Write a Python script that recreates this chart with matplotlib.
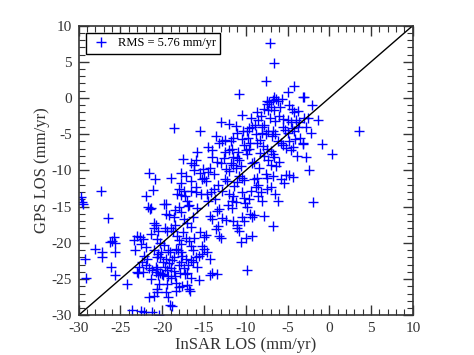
import numpy as np
import matplotlib
matplotlib.use("Agg")
import matplotlib.pyplot as plt
from matplotlib.ticker import MultipleLocator

# (InSAR LOS, GPS LOS) in mm/yr
los_pairs = [
    # far left
    (-29.7, -13.7), (-29.5, -14.6), (-29.6, -14.4), (-27.3, -12.9), (-26.5, -16.6),
    (-26.0, -19.7), (-25.8, -19.2), (-25.7, -20.0), (-26.2, -19.9), (-25.7, -21.3),
    (-28.0, -20.9), (-27.2, -21.2), (-27.2, -22.0), (-29.3, -22.3), (-29.1, -24.9),
    (-26.1, -23.3), (-25.6, -24.4),
    # x -25..-20
    (-24.2, -25.7), (-23.6, -29.3), (-22.5, -29.4), (-22.2, -29.6), (-21.2, -29.6),
    (-20.4, -29.9), (-23.4, -19.6), (-23.0, -19.0), (-22.7, -19.2), (-22.3, -19.5),
    (-22.5, -20.1), (-23.2, -21.0), (-22.2, -21.8), (-21.8, -22.3), (-22.0, -23.0),
    (-21.6, -23.5), (-22.3, -24.0), (-23.0, -24.0), (-22.9, -24.2), (-21.6, -27.5),
    (-21.0, -27.3), (-22.0, -13.6), (-21.7, -15.0), (-21.5, -15.3), (-21.3, -15.2),
    (-21.6, -10.3), (-20.9, -11.2), (-21.1, -12.7), (-21.0, -17.2), (-20.7, -17.6),
    (-21.0, -18.0), (-20.5, -18.3), (-21.3, -18.8), (-20.6, -19.5), (-20.3, -20.0),
    (-21.0, -21.0), (-20.5, -21.6), (-20.6, -22.0), (-20.3, -22.0), (-20.8, -23.3),
    (-20.6, -23.6), (-21.2, -23.7), (-20.3, -24.2), (-20.5, -24.5), (-20.8, -24.0),
    (-20.4, -25.7), (-20.6, -26.4), (-20.6, -26.8), (-20.0, -24.3), (-22.4, -22.6),
    (-21.9, -20.6), (-22.8, -23.4), (-21.4, -25.0), (-20.2, -21.2),
    # x -20..-15, lower part
    (-19.8, -14.6), (-19.6, -14.6), (-19.5, -16.0), (-19.2, -16.2), (-19.0, -18.0),
    (-18.7, -18.3), (-18.5, -17.5), (-19.7, -17.9), (-19.4, -18.3), (-18.5, -15.4),
    (-18.0, -15.0), (-17.8, -15.8), (-17.4, -16.7), (-17.0, -17.3), (-17.5, -18.5),
    (-18.0, -19.6), (-17.8, -20.2), (-17.2, -19.4), (-16.8, -19.8), (-18.3, -20.8),
    (-18.1, -21.0), (-17.8, -21.3), (-19.3, -21.0), (-19.1, -21.2), (-19.6, -22.2),
    (-19.9, -22.6), (-19.2, -22.8), (-18.8, -22.4), (-19.7, -23.4), (-19.4, -23.8),
    (-19.0, -23.5), (-18.6, -23.9), (-19.9, -24.4), (-19.3, -24.6), (-18.9, -24.9),
    (-18.5, -24.6), (-18.0, -23.0), (-17.7, -22.6), (-17.4, -23.5), (-17.9, -24.2),
    (-17.3, -24.3), (-17.0, -24.1), (-18.4, -25.6), (-18.0, -26.1), (-17.6, -26.0),
    (-17.0, -25.8), (-16.8, -26.4), (-16.7, -26.7), (-19.4, -25.7), (-19.6, -26.8),
    (-19.3, -27.5), (-19.1, -28.6), (-18.8, -28.7), (-16.5, -22.4), (-16.3, -22.7),
    (-16.0, -22.0), (-15.6, -21.8), (-16.6, -20.5), (-16.3, -21.0), (-15.6, -25.2),
    (-15.5, -18.5), (-15.0, -19.2), (-14.8, -18.9), (-15.2, -20.4), (-15.0, -20.9),
    (-15.2, -21.5), (-14.6, -21.2), (-14.3, -22.3), (-14.0, -24.1), (-13.5, -24.3),
    (-14.3, -24.4), (-16.5, -17.8), (-16.3, -16.4), (-16.8, -14.8), (-15.8, -15.2),
    (-18.2, -19.0), (-17.6, -21.8), (-16.9, -23.0), (-18.6, -21.9), (-16.2, -19.3),
    (-17.1, -22.2), (-18.4, -26.7), (-19.8, -20.3), (-15.8, -23.3), (-16.6, -24.8),
    # x -20..-15, upper part
    (-18.6, -4.2), (-15.5, -4.6), (-15.8, -7.4), (-17.5, -8.4), (-16.5, -9.0),
    (-16.2, -9.3), (-17.8, -10.4), (-17.2, -10.8), (-16.2, -10.0), (-15.5, -10.3),
    (-17.4, -12.8), (-17.7, -13.4), (-17.3, -13.6), (-16.5, -11.5), (-16.0, -12.3),
    (-15.2, -11.2), (-15.0, -11.0), (-15.9, -13.0), (-15.3, -13.3), (-18.0, -12.6),
    (-18.2, -13.2), (-19.0, -11.0), (-17.0, -14.2), (-16.6, -12.8), (-15.1, -9.8),
    (-18.6, -16.4), (-17.7, -11.8), (-16.9, -14.9), (-16.0, -8.6),
    # x -15..-10
    (-13.6, -5.3), (-12.0, -3.6), (-13.0, -3.3), (-14.5, -6.8), (-14.0, -7.2),
    (-13.2, -6.2), (-12.8, -6.0), (-12.5, -7.5), (-12.0, -7.2), (-11.6, -7.0),
    (-11.5, -8.2), (-11.0, -8.3), (-10.8, -8.5), (-13.5, -8.8), (-13.0, -9.0),
    (-14.3, -9.6), (-14.5, -10.2), (-13.8, -10.5), (-12.4, -9.8), (-12.0, -10.1),
    (-11.5, -9.3), (-11.2, -9.6), (-10.8, -10.8), (-10.5, -11.0), (-10.2, -11.3),
    (-12.5, -11.2), (-12.2, -11.5), (-11.0, -11.6), (-11.4, -12.2), (-13.3, -12.0),
    (-13.8, -12.5), (-14.2, -13.0), (-14.6, -13.3), (-12.0, -13.2), (-11.5, -13.5),
    (-10.5, -13.0), (-10.2, -13.8), (-11.6, -14.2), (-11.2, -14.4), (-14.5, -14.2),
    (-13.2, -15.3), (-13.5, -15.6), (-14.3, -16.3), (-14.0, -16.7), (-12.8, -16.6),
    (-12.4, -16.9), (-11.5, -17.0), (-11.0, -17.5), (-11.0, -18.0), (-10.5, -16.5),
    (-10.2, -17.0), (-10.8, -18.4), (-13.3, -17.7), (-13.6, -18.1), (-13.2, -19.0),
    (-13.0, -19.4), (-10.6, -19.9), (-10.0, -19.3), (-11.7, -15.2), (-10.4, -2.4),
    (-11.0, -4.8), (-11.5, -5.5), (-10.5, -5.6), (-10.2, -6.5), (-11.8, -6.0),
    (-12.5, -5.8), (-10.8, 0.5), (-12.6, -8.3), (-11.8, -9.0), (-10.6, -9.4),
    (-10.9, -7.4), (-14.8, -11.4), (-13.7, -14.0), (-12.9, -12.8), (-10.3, -4.5),
    (-11.2, -3.9), (-14.1, -8.2), (-10.1, -14.5), (-12.1, -14.8),
    # x -10..-5, lower part
    (-9.9, -23.7), (-9.2, -19.0), (-9.5, -16.0), (-9.0, -16.2), (-9.3, -16.5),
    (-7.8, -16.3), (-6.8, -17.7), (-9.8, -15.0), (-9.6, -14.0), (-8.5, -12.0),
    (-8.8, -12.3), (-8.2, -13.0), (-8.5, -13.5), (-7.5, -12.5), (-7.0, -12.3),
    (-6.5, -13.2), (-6.2, -14.2), (-9.0, -11.2), (-8.6, -11.0), (-7.5, -11.0),
    (-7.6, -10.5), (-6.8, -10.8), (-5.8, -11.2), (-5.4, -11.7), (-5.2, -10.7),
    (-6.4, -9.4), (-7.0, -9.2), (-9.4, -12.9), (-8.0, -14.2),
    # x -10..-5, upper part
    (-10.0, -7.2), (-9.8, -7.8), (-9.6, -7.0), (-9.5, -6.2), (-9.9, -4.5),
    (-9.6, -4.2), (-9.2, -4.0), (-8.9, -3.7), (-8.5, -3.0), (-8.2, -2.5),
    (-8.0, -4.0), (-7.8, -3.8), (-8.1, -4.8), (-7.6, -5.0), (-7.3, -4.6),
    (-7.8, -1.5), (-7.3, -1.7), (-7.0, -1.2), (-6.6, -1.6), (-7.5, -0.4),
    (-7.2, -0.6), (-6.8, -0.3), (-6.4, -0.1), (-6.2, -0.4), (-5.7, -0.2),
    (-6.0, -2.5), (-5.6, -2.9), (-6.5, -3.2), (-6.8, -4.6), (-6.5, -5.0),
    (-6.9, -5.3), (-7.5, -7.0), (-7.0, -7.3), (-6.7, -7.7), (-6.6, -8.2),
    (-7.3, -8.5), (-7.8, -8.0), (-8.3, -7.6), (-8.7, -6.2), (-8.3, -5.8),
    (-5.5, -4.0), (-5.3, -4.4), (-5.0, -4.8), (-5.8, -6.2), (-5.5, -6.5),
    (-5.2, -6.9), (-9.0, -8.8), (-9.3, -9.0), (-8.8, -5.0), (-7.9, -6.6),
    (-6.2, -6.0), (-8.6, -1.9), (-9.4, -2.8), (-7.1, -2.8), (-5.9, -1.3),
    (-8.4, -9.6), (-6.0, -8.9), (-9.7, -5.5),
    # x -5..0
    (-4.8, -1.0), (-4.5, -1.5), (-4.2, -2.0), (-3.8, -1.8), (-4.9, -3.0),
    (-4.6, -3.3), (-4.0, -3.0), (-3.6, -3.3), (-4.5, -4.2), (-4.2, -4.6),
    (-3.8, -4.0), (-3.0, -2.7), (-2.6, -2.8), (-2.1, -1.0), (-2.8, -4.0),
    (-2.2, -4.8), (-1.4, -3.0), (-3.2, -6.2), (-3.1, -6.4), (-4.8, -6.0),
    (-4.4, -6.8), (-3.9, -8.0), (-2.8, -8.2), (-4.6, -7.2), (-0.9, -6.3),
    (-4.8, -10.6), (-4.4, -10.9), (-2.4, -10.0), (-3.5, -5.5), (-4.1, -5.6),
    # top
    (-7.1, 7.6), (-6.6, 4.8), (-7.6, 2.4), (-4.2, 1.6), (-4.9, 0.8),
    (-6.6, 0.2), (-3.2, 0.2), (-3.0, 0.1), (-7.4, -0.9),
    # outliers right
    (3.6, -4.5), (0.3, -7.8), (-1.9, -14.3),
]

insar_los = np.array([p[0] for p in los_pairs])
gps_los = np.array([p[1] for p in los_pairs])
rms_label = "RMS = 5.76 mm/yr"
axis_limits = (-30, 10)

plt.rcParams["font.family"] = ["Liberation Serif", "DejaVu Serif"]
plt.rcParams["axes.unicode_minus"] = False

fig = plt.figure(figsize=(4.74, 3.55), dpi=100)
ax = fig.add_axes([0.166, 0.112, 0.705, 0.816])

ax.plot(insar_los, gps_los, linestyle="none", marker="+", color="#0000ff",
        markersize=7, markeredgewidth=1.0, label=rms_label)
ax.plot(axis_limits, axis_limits, color="black", linewidth=1.0)

ax.set_xlim(*axis_limits)
ax.set_ylim(*axis_limits)
ax.xaxis.set_major_locator(MultipleLocator(5))
ax.yaxis.set_major_locator(MultipleLocator(5))
ax.xaxis.set_minor_locator(MultipleLocator(1))
ax.yaxis.set_minor_locator(MultipleLocator(1))
ax.tick_params(which="both", direction="in", top=True, right=True,
               labelsize=11, color="#333333", pad=5)
ax.tick_params(which="major", length=7, width=1)
ax.tick_params(which="minor", length=4, width=0.8)
for sp in ax.spines.values():
    sp.set_linewidth(1.2)
    sp.set_color("#333333")

ax.set_xlabel("InSAR LOS (mm/yr)", fontsize=12, labelpad=1, color="#333333")
ax.set_ylabel("GPS LOS (mm/yr)", fontsize=12, labelpad=1, color="#333333")
for lbl in ax.get_xticklabels() + ax.get_yticklabels():
    lbl.set_color("#333333")

leg = ax.legend(loc="upper left", fontsize=9, fancybox=False, framealpha=1,
                edgecolor="black", borderpad=0.35, handlelength=1.6,
                handletextpad=0.6, borderaxespad=0.6)
leg.get_frame().set_linewidth(1.0)

fig.savefig("out.png", dpi=100)
